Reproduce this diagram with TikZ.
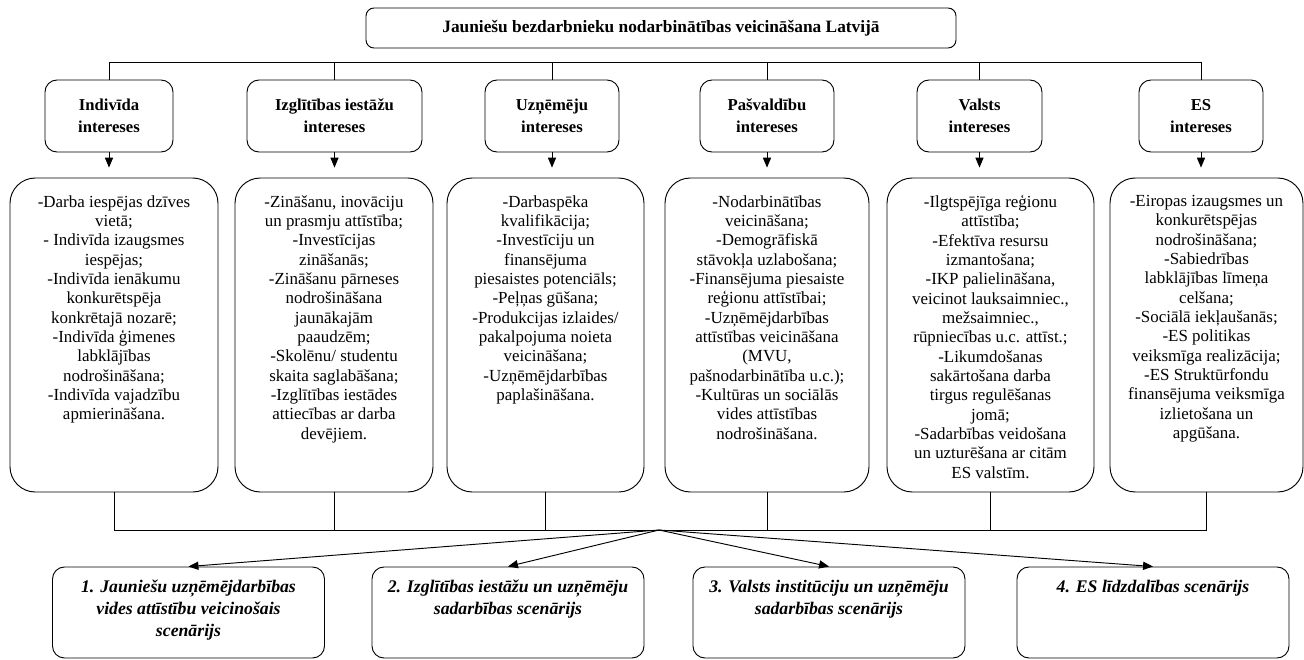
\documentclass[tikz,border=0pt]{standalone}
\usepackage{fontspec}
\setmainfont{Liberation Serif}
\usetikzlibrary{positioning, arrows}
\setlength{\lineskiplimit}{-20pt}

\begin{document}
\begin{tikzpicture}[x=0.75pt, y=-0.75pt, >=triangle 45, line width=0.7pt,
    title/.style={draw, rounded corners=6pt, minimum width=442.5pt, minimum height=30pt, font=\fontsize{13}{15}\selectfont\bfseries},
    hdr/.style={draw, rounded corners=9pt, minimum height=54pt, align=center, font=\fontsize{12.5}{16.5}\selectfont\bfseries},
    cbox/.style={draw, rounded corners=19pt, minimum height=235.5pt},
    ctext/.style={align=center, inner sep=0pt, font=\fontsize{12.7}{14.5}\selectfont},
    sbox/.style={draw, rounded corners=9pt, minimum width=204pt, minimum height=68.25pt},
    stext/.style={align=center, inner sep=0pt, font=\fontsize{13.3}{16.5}\selectfont\bfseries\itshape}]

    \useasboundingbox (0,0) rectangle (1304,660);

    % virsraksts
    \node[title] (top) at (661,28) {Jauniešu bezdarbnieku nodarbinātības veicināšana Latvijā};

    % intereses
    \node[hdr, minimum width=96pt] (h1) at (109,116) {Indivīda\\intereses};
    \node[hdr, minimum width=131.25pt] (h2) at (334.5,116) {Izglītības iestāžu\\intereses};
    \node[hdr, minimum width=100.5pt] (h3) at (552,116) {Uzņēmēju\\intereses};
    \node[hdr, minimum width=100.5pt] (h4) at (767,116) {Pašvaldību\\intereses};
    \node[hdr, minimum width=93.75pt] (h5) at (979.5,116) {Valsts\\intereses};
    \node[hdr, minimum width=93pt] (h6) at (1201,116) {ES\\intereses};

    % interešu saturs
    \node[cbox, minimum width=156pt] (c1) at (114,335) {};
    \node[cbox, minimum width=148.5pt] (c2) at (334,335) {};
    \node[cbox, minimum width=147.75pt] (c3) at (545.5,335) {};
    \node[cbox, minimum width=153pt] (c4) at (767,335) {};
    \node[cbox, minimum width=155.25pt] (c5) at (990.5,335) {};
    \node[cbox, minimum width=144.75pt] (c6) at (1206.5,335) {};

    \node[ctext, below=13pt of c1.north] (c1t) {-Darba iespējas dzīves\\vietā;\\- Indivīda izaugsmes\\iespējas;\\-Indivīda ienākumu\\konkurētspēja\\konkrētajā nozarē;\\-Indivīda ģimenes\\labklājības\\nodrošināšana;\\-Indivīda vajadzību\\apmierināšana.};
    \node[ctext, below=13pt of c2.north] (c2t) {-Zināšanu, inovāciju\\un prasmju attīstība;\\-Investīcijas\\zināšanās;\\-Zināšanu pārneses\\nodrošināšana\\jaunākajām\\paaudzēm;\\-Skolēnu/ studentu\\skaita saglabāšana;\\-Izglītības iestādes\\attiecības ar darba\\devējiem.};
    \node[ctext, below=13pt of c3.north] (c3t) {-Darbaspēka\\kvalifikācija;\\-Investīciju un\\finansējuma\\piesaistes potenciāls;\\-Peļņas gūšana;\\-Produkcijas izlaides/\\pakalpojuma noieta\\veicināšana;\\-Uzņēmējdarbības\\paplašināšana.};
    \node[ctext, below=13pt of c4.north] (c4t) {-Nodarbinātības\\veicināšana;\\-Demogrāfiskā\\stāvokļa uzlabošana;\\-Finansējuma piesaiste\\reģionu attīstībai;\\-Uzņēmējdarbības\\attīstības veicināšana\\(MVU,\\pašnodarbinātība u.c.);\\-Kultūras un sociālās\\vides attīstības\\nodrošināšana.};
    \node[ctext, below=13pt of c5.north] (c5t) {-Ilgtspējīga reģionu\\attīstība;\\-Efektīva resursu\\izmantošana;\\-IKP palielināšana,\\veicinot lauksaimniec.,\\mežsaimniec.,\\rūpniecības u.c. attīst.;\\-Likumdošanas\\sakārtošana darba\\tirgus regulēšanas\\jomā;\\-Sadarbības veidošana\\un uzturēšana ar citām\\ES valstīm.};
    \node[ctext, below=13pt of c6.north] (c6t) {-Eiropas izaugsmes un\\konkurētspējas\\nodrošināšana;\\-Sabiedrības\\labklājības līmeņa\\celšana;\\-Sociālā iekļaušanās;\\-ES politikas\\veiksmīga realizācija;\\-ES Struktūrfondu\\finansējuma veiksmīga\\izlietošana un\\apgūšana.};

    % scenāriji
    \node[sbox] (s1) at (188.5,612.5) {};
    \node[sbox] (s2) at (508,612.5) {};
    \node[sbox] (s3) at (829,612.5) {};
    \node[sbox] (s4) at (1153,612.5) {};

    \node[stext, below=10pt of s1.north] (s1t) {1. Jauniešu uzņēmējdarbības\\vides attīstību veicinošais\\scenārijs};
    \node[stext, below=10pt of s2.north] (s2t) {2. Izglītības iestāžu un uzņēmēju\\sadarbības scenārijs};
    \node[stext, below=10pt of s3.north] (s3t) {3. Valsts institūciju un uzņēmēju\\sadarbības scenārijs};
    \node[stext, below=10pt of s4.north] (s4t) {4. ES līdzdalības scenārijs};

    % savienojumi
    \coordinate (tbus) at (0,62);
    \coordinate (bbus) at (0,530);
    \coordinate (hub) at (659,530);

    \draw (h1.north) |- (tbus -| h6.north) -- (h6.north);
    \draw (h2.north) -- (h2.north |- tbus) (h3.north) -- (h3.north |- tbus)
    (h4.north) -- (h4.north |- tbus) (h5.north) -- (h5.north |- tbus);

    \path [->, shorten >=7.5pt] (h1.south) edge (h1.south |- c1.north) (h2.south) edge (h2.south |- c2.north)
    (h3.south) edge (h3.south |- c3.north) (h4.south) edge (h4.south |- c4.north)
    (h5.south) edge (h5.south |- c5.north) (h6.south) edge (h6.south |- c6.north);

    \draw (c1.south) |- (bbus -| c6.south) -- (c6.south);
    \draw (c2.south) -- (c2.south |- bbus) (c3.south) -- (c3.south |- bbus)
    (c4.south) -- (c4.south |- bbus) (c5.south) -- (c5.south |- bbus);

    \path [->] (hub) edge (s1.north) (hub) edge (s2.north) (hub) edge (s3.north) (hub) edge (s4.north);

\end{tikzpicture}
\end{document}
